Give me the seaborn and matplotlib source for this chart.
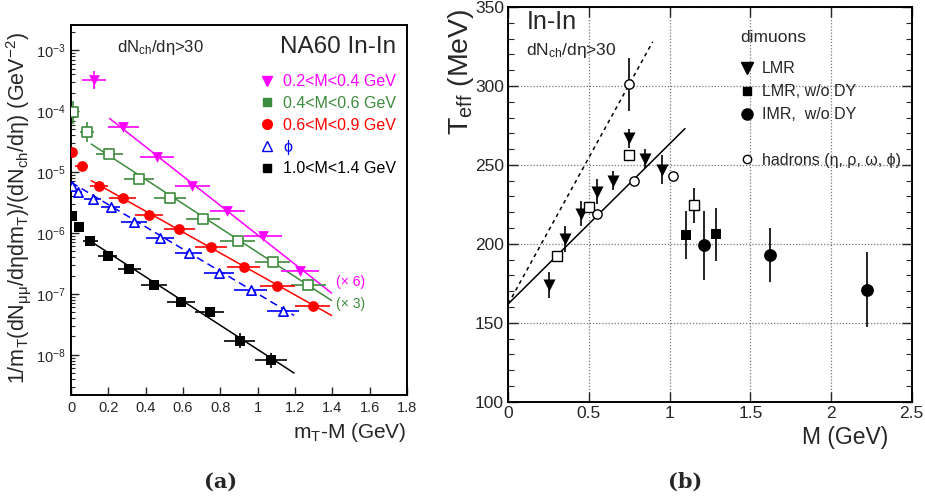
import numpy as np
import pandas as pd
import matplotlib
matplotlib.use("Agg")
import matplotlib.pyplot as plt
import seaborn as sns
from matplotlib.lines import Line2D
from matplotlib.ticker import LogLocator, NullFormatter, MultipleLocator, FixedLocator

# ---------------- Panel (a) data ----------------
mag_x = [0.124, 0.281, 0.460, 0.649, 0.837, 1.028, 1.227]
mag_y = [3.24e-4, 5.53e-5, 1.74e-5, 5.97e-6, 2.30e-6, 8.93e-7, 2.41e-7]
mag_xerr = [0.065, 0.085, 0.09, 0.094, 0.094, 0.10, 0.10]
mag_yerr_dec = [0.145, 0.0, 0.0, 0.0, 0.0, 0.0, 0.0]

grn_x = [0.009, 0.084, 0.206, 0.362, 0.529, 0.708, 0.894, 1.081, 1.272]
grn_y = [9.51e-5, 4.58e-5, 1.97e-5, 7.67e-6, 3.79e-6, 1.67e-6, 7.40e-7, 3.30e-7, 1.39e-7]
grn_xerr = [0.02, 0.038, 0.07, 0.08, 0.086, 0.09, 0.094, 0.094, 0.094]
grn_yerr_dec = [0.19, 0.16, 0.0, 0.0, 0.0, 0.0, 0.0, 0.0, 0.0]

red_x = [0.007, 0.057, 0.150, 0.276, 0.419, 0.580, 0.751, 0.925, 1.105, 1.294]
red_y = [2.10e-5, 1.27e-5, 5.97e-6, 3.79e-6, 1.97e-6, 1.16e-6, 5.82e-7, 2.74e-7, 1.37e-7, 6.43e-8]
red_xerr = [0.0, 0.036, 0.05, 0.07, 0.076, 0.083, 0.085, 0.09, 0.094, 0.092]

phi_x = [0.004, 0.039, 0.115, 0.213, 0.339, 0.478, 0.631, 0.792, 0.962, 1.136]
phi_y = [5.97e-6, 4.76e-6, 3.61e-6, 2.64e-6, 1.53e-6, 8.38e-7, 4.76e-7, 2.18e-7, 1.14e-7, 5.33e-8]
phi_xerr = [0.0, 0.02, 0.045, 0.05, 0.07, 0.075, 0.072, 0.08, 0.088, 0.085]

blk_x = [0.004, 0.043, 0.102, 0.197, 0.312, 0.444, 0.588, 0.742, 0.903, 1.071]
blk_y = [1.92e-6, 1.25e-6, 7.40e-7, 4.25e-7, 2.54e-7, 1.42e-7, 7.31e-8, 5.01e-8, 1.71e-8, 8.07e-9]
blk_xerr = [0.0, 0.0, 0.04, 0.05, 0.063, 0.07, 0.075, 0.078, 0.085, 0.085]
blk_yerr_dec = [0, 0, 0, 0, 0, 0, 0, 0, 0.12, 0.13]

# exponential fits (end points)
fit_mag_x, fit_mag_y = [0.206, 1.396], [7.59e-5, 1.03e-7]
fit_grn_x, fit_grn_y = [0.108, 1.396], [2.88e-5, 7.78e-8]
fit_red_x, fit_red_y = [0.108, 1.396], [7.21e-6, 4.42e-8]
fit_phi_x, fit_phi_y = [0.0, 1.195], [6.78e-6, 4.42e-8]
fit_blk_x, fit_blk_y = [0.102, 1.195], [7.40e-7, 5.01e-9]

legend_a = ["0.2<M<0.4 GeV", "0.4<M<0.6 GeV", "0.6<M<0.9 GeV", "ϕ", "1.0<M<1.4 GeV"]

# ---------------- Panel (b) data ----------------
lmr_M = [0.25, 0.35, 0.45, 0.55, 0.65, 0.75, 0.85, 0.95]
lmr_T = [174, 203, 219, 233, 240, 267, 254, 247]
lmr_err = [8, 8, 8, 8, 6, 6, 6, 9]

osq_M = [0.30, 0.50, 0.75, 1.15]
osq_T = [192, 223.5, 256, 224.5]
osq_err = [3, 3, 3, 11]

lmrdy_M = [1.10, 1.29]
lmrdy_T = [205.5, 206]
lmrdy_err = [15, 17]

imr_M = [1.21, 1.62, 2.22]
imr_T = [199, 193, 171]
imr_err = [22, 17, 24]

had_M = [0.55, 0.75, 0.78, 1.02]
had_T = [219, 301, 240, 243]
had_err = [2, 17, 2, 2]

line_solid_M, line_solid_T = [0.0, 1.095], [162, 273]
line_dash_M, line_dash_T = [0.0, 0.895], [162, 328]

# ---------------- Figure ----------------
sns.set_theme(style="ticks")
plt.rcParams['font.family'] = ['Liberation Sans', 'DejaVu Sans']
plt.rcParams['mathtext.fontset'] = 'custom'
plt.rcParams['mathtext.rm'] = 'Liberation Sans'
plt.rcParams['mathtext.it'] = 'Liberation Sans:italic'
plt.rcParams['mathtext.default'] = 'rm'

fig = plt.figure(figsize=(9.25, 5.04), dpi=100)
ax1 = fig.add_axes([0.0768, 0.2163, 0.3632, 0.7337])
ax2 = fig.add_axes([0.5495, 0.203, 0.4361, 0.783])

MAG, GRN, RED, BLU, BLK = '#ff00ff', '#3d8b3d', '#ff0000', '#0000ff', '#000000'

def dec_err(y, d):
    y = np.asarray(y); d = np.asarray(d)
    return np.vstack([y - y * 10 ** (-d), y * 10 ** d - y])

def draw_series(ax, x, y, xerr, yerr_dec, color, marker, size, open_=False):
    yerr = dec_err(y, yerr_dec) if yerr_dec is not None else None
    ax.errorbar(x, y, xerr=xerr, yerr=yerr, fmt='none', ecolor=color, elinewidth=1.2, capsize=0, zorder=2)
    sns.scatterplot(x=x, y=y, ax=ax, marker=marker, s=size, color=color, linewidth=1.2 if open_ else 0,
                    zorder=3, legend=False)
    coll = ax.collections[-1]
    if open_:
        coll.set_facecolor('white')
        coll.set_edgecolor(color)

def draw_fit(ax, x, y, color, ls='-'):
    sns.lineplot(x=x, y=y, ax=ax, color=color, lw=1.1, linestyle=ls, legend=False, zorder=1)

draw_fit(ax1, fit_mag_x, fit_mag_y, MAG)
draw_fit(ax1, fit_grn_x, fit_grn_y, GRN)
draw_fit(ax1, fit_red_x, fit_red_y, RED)
draw_fit(ax1, fit_phi_x, fit_phi_y, BLU, ls=(0, (5, 3)))
draw_fit(ax1, fit_blk_x, fit_blk_y, BLK)

draw_series(ax1, mag_x, mag_y, mag_xerr, mag_yerr_dec, MAG, 'v', 60)
draw_series(ax1, grn_x, grn_y, grn_xerr, grn_yerr_dec, GRN, 's', 50, open_=True)
draw_series(ax1, red_x, red_y, red_xerr, None, RED, 'o', 60)
draw_series(ax1, phi_x, phi_y, phi_xerr, None, BLU, '^', 45, open_=True)
draw_series(ax1, blk_x, blk_y, blk_xerr, blk_yerr_dec, BLK, 's', 50)

ax1.set_yscale('log')
ax1.set_xlim(0, 1.8)
ax1.set_ylim(10 ** -8.66, 10 ** -2.59)
ax1.set_xticks(np.arange(0, 1.81, 0.2))
ax1.set_xticklabels(['0', '0.2', '0.4', '0.6', '0.8', '1', '1.2', '1.4', '1.6', '1.8'])
ax1.yaxis.set_major_locator(FixedLocator([1e-8, 1e-7, 1e-6, 1e-5, 1e-4, 1e-3]))
ax1.yaxis.set_minor_locator(LogLocator(base=10, subs=np.arange(2, 10), numticks=20))
ax1.yaxis.set_minor_formatter(NullFormatter())
ax1.tick_params(axis='both', which='major', direction='in', length=6, width=1, labelsize=10.5, pad=4)
ax1.tick_params(axis='y', which='minor', direction='in', length=3, width=0.8)
for s in ax1.spines.values():
    s.set_linewidth(1.4)
    s.set_color('black')

ax1.set_xlabel("m$_\\mathrm{T}$-M (GeV)", fontsize=15, loc='right')
ax1.xaxis.set_label_coords(1.0, -0.07)
ax1.set_ylabel("1/m$_\\mathrm{T}$(dN$_{\\mathrm{μμ}}$/dηdm$_\\mathrm{T}$)/(dN$_\\mathrm{ch}$/dη) (GeV$^{-2}$)", fontsize=15.5)
ax1.yaxis.set_label_coords(-0.112, 0.505)

ax1.text(0.265, 0.94, "dN$_\\mathrm{ch}$/dη>30", transform=ax1.transAxes, ha='center', va='center', fontsize=12)
ax1.text(0.795, 0.94, "NA60 In-In", transform=ax1.transAxes, ha='center', va='center', fontsize=17.5)
ax1.text(0.79, 0.305, "(× 6)", transform=ax1.transAxes, ha='left', va='center', fontsize=10, color=MAG)
ax1.text(0.79, 0.246, "(× 3)", transform=ax1.transAxes, ha='left', va='center', fontsize=10, color=GRN)

h1 = [Line2D([], [], ls='none', marker='v', color=MAG, ms=7),
      Line2D([], [], ls='none', marker='s', color=GRN, ms=6),
      Line2D([], [], ls='none', marker='o', color=RED, ms=7),
      Line2D([], [], ls='none', marker='^', mfc='white', mec=BLU, ms=7),
      Line2D([], [], ls='none', marker='s', color=BLK, ms=6)]
ax1.legend(h1, legend_a, loc='upper left', bbox_to_anchor=(0.56, 0.867), frameon=False,
           fontsize=11.5, handlelength=1.0, handletextpad=0.5, labelspacing=0.42, borderpad=0,
           borderaxespad=0, labelcolor=[MAG, GRN, RED, BLU, BLK])

# ---------------- Panel (b) ----------------
draw_fit(ax2, line_dash_M, line_dash_T, BLK, ls=(0, (2.5, 2.5)))
draw_fit(ax2, line_solid_M, line_solid_T, BLK)

def draw_b(x, y, err, marker, size, open_=False):
    ax2.errorbar(x, y, yerr=err, fmt='none', ecolor='black', elinewidth=1.2, capsize=0, zorder=2)
    sns.scatterplot(x=x, y=y, ax=ax2, marker=marker, s=size, color='black',
                    linewidth=1.0 if open_ else 0, zorder=3, legend=False)
    coll = ax2.collections[-1]
    if open_:
        coll.set_facecolor('white')
        coll.set_edgecolor('black')

draw_b(lmr_M, lmr_T, lmr_err, 'v', 75)
draw_b(osq_M, osq_T, osq_err, 's', 55, open_=True)
draw_b(lmrdy_M, lmrdy_T, lmrdy_err, 's', 60)
draw_b(imr_M, imr_T, imr_err, 'o', 85)
draw_b(had_M, had_T, had_err, 'o', 45, open_=True)

ax2.set_xlim(0, 2.5)
ax2.set_ylim(100, 350)
ax2.set_xticks([0, 0.5, 1, 1.5, 2, 2.5])
ax2.set_xticklabels(['0', '0.5', '1', '1.5', '2', '2.5'])
ax2.set_yticks([100, 150, 200, 250, 300, 350])
ax2.yaxis.set_minor_locator(MultipleLocator(10))
ax2.tick_params(axis='both', which='major', direction='in', length=7, width=1, labelsize=12.5,
                top=True, right=True, pad=3)
ax2.tick_params(axis='y', which='minor', direction='in', length=4, width=0.8, right=True, left=True)
ax2.grid(True, which='major', color='#777777', linestyle=(0, (1, 1.5)), linewidth=0.9)
for s in ax2.spines.values():
    s.set_linewidth(1.4)
    s.set_color('black')

ax2.set_xlabel("M (GeV)", fontsize=16.5, loc='right')
ax2.xaxis.set_label_coords(0.941, -0.062)
ax2.set_ylabel("T$_\\mathrm{eff}$ (MeV)", fontsize=20.5, loc='top')
ax2.yaxis.set_label_coords(-0.08, 0.995)

ax2.text(0.046, 0.962, "In-In", transform=ax2.transAxes, ha='left', va='center', fontsize=18)
ax2.text(0.044, 0.891, "dN$_\\mathrm{ch}$/dη>30", transform=ax2.transAxes, ha='left', va='center', fontsize=12.5)
ax2.text(0.574, 0.924, "dimuons", transform=ax2.transAxes, ha='left', va='center', fontsize=12.5)

h2 = [Line2D([], [], ls='none', marker='v', color='black', ms=8),
      Line2D([], [], ls='none', marker='s', color='black', ms=6),
      Line2D([], [], ls='none', marker='o', color='black', ms=8),
      Line2D([], [], ls='none', marker=None),
      Line2D([], [], ls='none', marker='o', mfc='white', mec='black', ms=6)]
labels2 = ["LMR", "LMR, w/o DY", "IMR,  w/o DY", " ", "hadrons (η, ρ, ω, ϕ)"]
ax2.legend(h2, labels2, loc='upper left', bbox_to_anchor=(0.576, 0.863), frameon=False,
           fontsize=11.5, handlelength=0.8, handletextpad=0.54, labelspacing=0.5, borderpad=0,
           borderaxespad=0)

fig.text(0.238, 0.044, "(a)", ha='center', va='center', fontsize=15, fontweight='bold', family='DejaVu Serif')
fig.text(0.741, 0.044, "(b)", ha='center', va='center', fontsize=15, fontweight='bold', family='DejaVu Serif')

fig.savefig("out.png", dpi=100)
